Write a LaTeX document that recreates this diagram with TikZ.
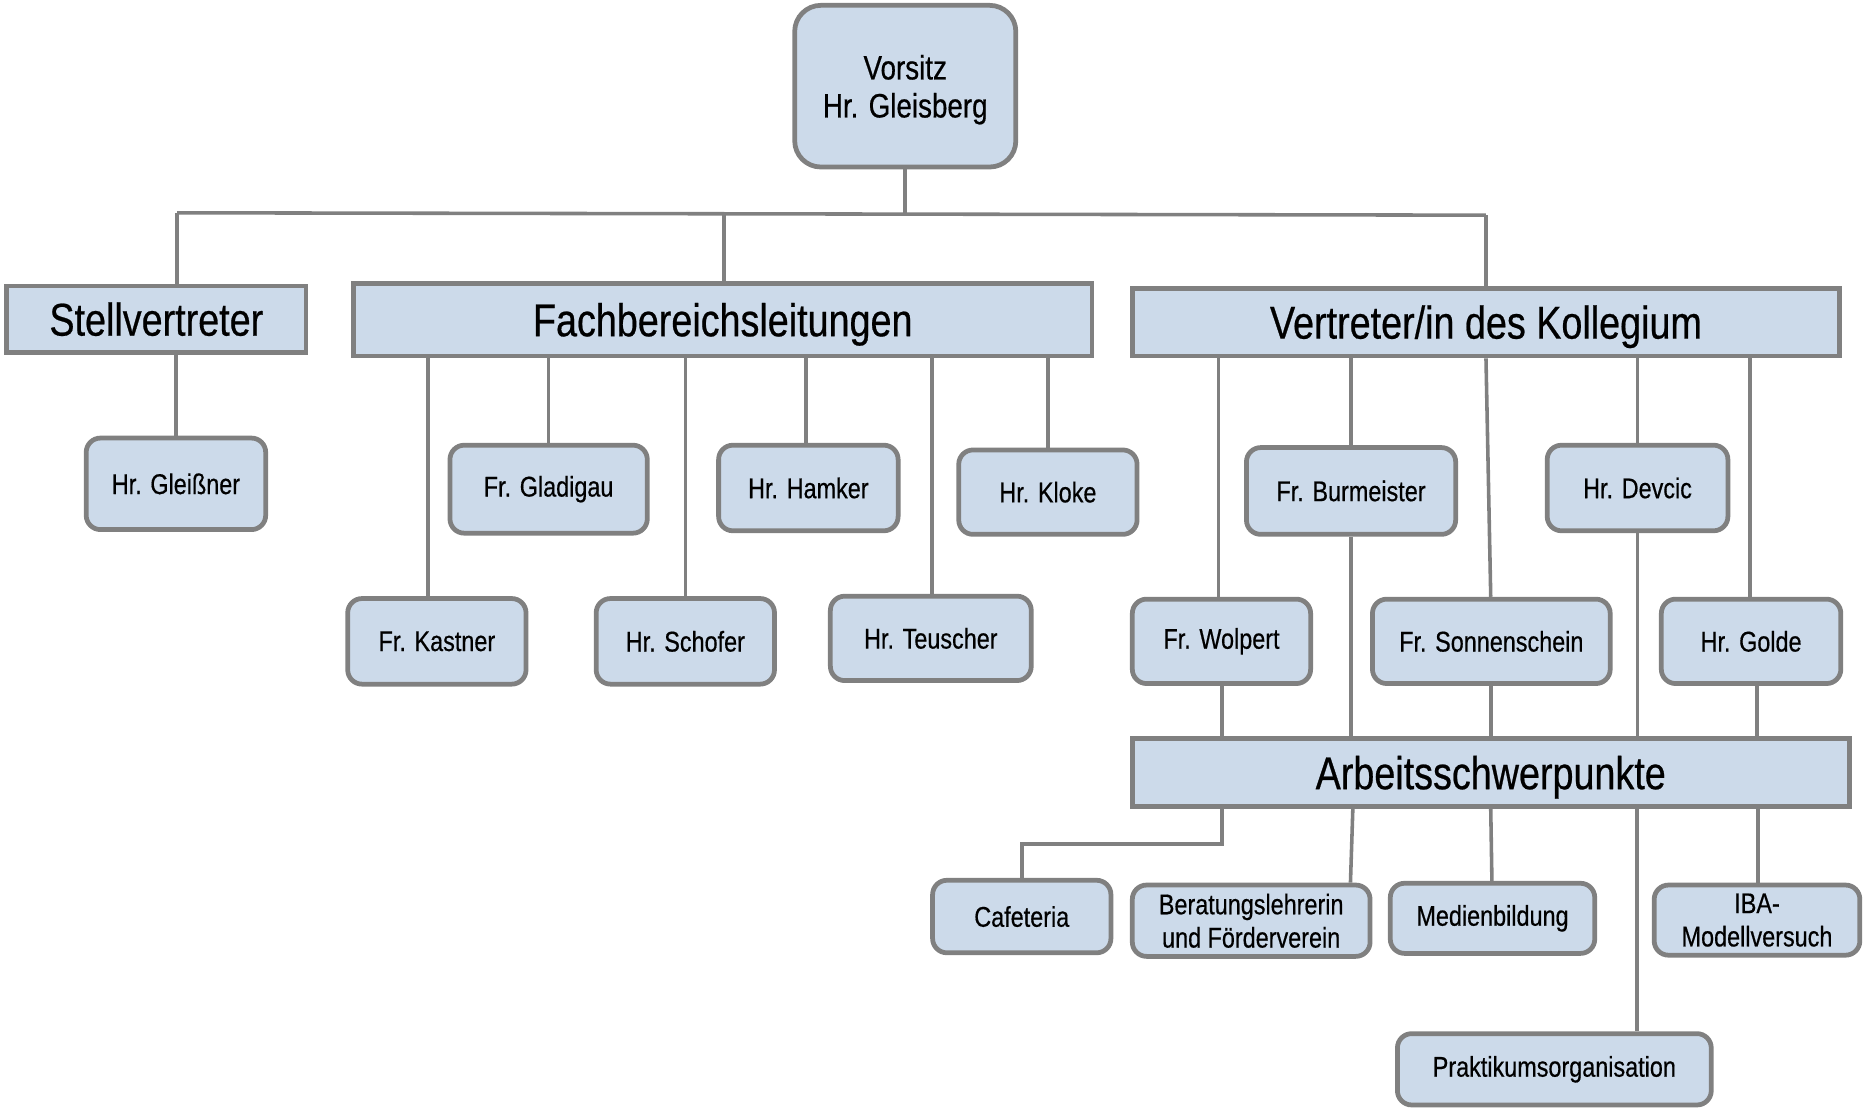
\documentclass[tikz,border=0pt]{standalone}
\usepackage{fontspec}
\setmainfont[FakeStretch=0.82,FakeBold=0.5]{Liberation Sans}
\definecolor{boxblue}{RGB}{204,218,234}
\definecolor{bordergray}{RGB}{128,128,128}
\definecolor{linegray}{RGB}{128,128,128}
\tikzset{
  lbox/.style={draw=bordergray, line width=4pt, fill=boxblue, rectangle, inner sep=0pt, text height=27.7pt, text depth=0pt, font=\fontsize{38.7}{44}\selectfont},
  sbox/.style={draw=bordergray, line width=4pt, fill=boxblue, rectangle, rounded corners=12pt, inner sep=0pt, align=center, font=\fontsize{24}{28}\selectfont},
  topbox/.style={sbox, rounded corners=22pt, text depth=0pt, font=\fontsize{28.5}{32}\selectfont},
  conn/.style={draw=linegray, line width=3pt}
}
\begin{document}
\begin{tikzpicture}[x=1pt,y=-1pt]
\useasboundingbox (0,0) rectangle (1568,933);
% nodes
\node[topbox, minimum width=186, minimum height=136] (vorsitz) at (761.5,72.5) {Vorsitz\\Hr. Gleisberg};
\node[lbox, minimum width=252, minimum height=56] (stell) at (131.5,268.5) {Stellvertreter};
\node[lbox, minimum width=621, minimum height=61] (fach) at (608,269) {Fachbereichsleitungen};
\node[lbox, minimum width=595, minimum height=57] (vert) at (1250,271) {Vertreter/in des Kollegium};
\node[sbox, minimum width=151, minimum height=77] (gleissner) at (148,407) {Hr. Gleißner};
\node[sbox, minimum width=150, minimum height=72] (kastner) at (367.5,539.5) {Fr. Kastner};
\node[sbox, minimum width=166, minimum height=74] (gladigau) at (461.5,411.5) {Fr. Gladigau};
\node[sbox, minimum width=150, minimum height=72] (schofer) at (576.5,539.5) {Hr. Schofer};
\node[sbox, minimum width=151, minimum height=72] (hamker) at (680,410.5) {Hr. Hamker};
\node[sbox, minimum width=169, minimum height=71] (teuscher) at (783,537) {Hr. Teuscher};
\node[sbox, minimum width=150, minimum height=71] (kloke) at (881.5,414) {Hr. Kloke};
\node[sbox, minimum width=150, minimum height=71] (wolpert) at (1027.5,539.5) {Fr. Wolpert};
\node[sbox, minimum width=176, minimum height=73] (burm) at (1136.5,413) {Fr. Burmeister};
\node[sbox, minimum width=200, minimum height=71] (sonnen) at (1254.5,539.5) {Fr. Sonnenschein};
\node[sbox, minimum width=152, minimum height=72] (devcic) at (1377.5,410.5) {Hr. Devcic};
\node[sbox, minimum width=151, minimum height=71] (golde) at (1473,539.5) {Hr. Golde};
\node[lbox, minimum width=603, minimum height=57] (arb) at (1254,650) {Arbeitsschwerpunkte};
\node[sbox, minimum width=150, minimum height=61] (caf) at (859.5,771) {Cafeteria};
\node[sbox, minimum width=200, minimum height=60] (berat) at (1052.5,774.5) {Beratungslehrerin\\und Förderverein};
\node[sbox, minimum width=172, minimum height=59] (medien) at (1255.5,772.5) {Medienbildung};
\node[sbox, minimum width=173, minimum height=59] (iba) at (1478,774) {IBA-\\Modellversuch};
\node[sbox, minimum width=264, minimum height=60] (prakt) at (1307.5,899.5) {Praktikumsorganisation};
% bus coordinates
\coordinate (busL) at (149,179);
\coordinate (busM) at (761.5,180);
\coordinate (busR) at (1250,181);
\coordinate (cafbend) at (1028,710);
% connectors
\draw[conn] (vorsitz.south) -- (busM);
\draw[conn] (busL) -- (busR);
\draw[conn] (busL) -- (busL |- stell.north);
\draw[conn] (fach.north -| 609,0) -- (609,180);
\draw[conn] (busR) -- (busR |- vert.north);
\draw[conn] (stell.south -| gleissner.north) -- (gleissner.north);
\draw[conn] (fach.south -| 360,0) -- (kastner.north -| 360,0);
\draw[conn] (fach.south -| gladigau.north) -- (gladigau.north);
\draw[conn] (fach.south -| schofer.north) -- (schofer.north);
\draw[conn] (fach.south -| 678,0) -- (hamker.north -| 678,0);
\draw[conn] (fach.south -| 784,0) -- (teuscher.north -| 784,0);
\draw[conn] (fach.south -| kloke.north) -- (kloke.north);
\draw[conn] (vert.south -| 1025,0) -- (wolpert.north -| 1025,0);
\draw[conn] (vert.south -| burm.north) -- (burm.north);
\draw[conn] (vert.south -| 1250,0) -- (sonnen.north -| 1254,0);
\draw[conn] (vert.south -| devcic.north) -- (devcic.north);
\draw[conn] (vert.south -| 1472,0) -- (golde.north -| 1472,0);
\draw[conn] (wolpert.south -| 1028,0) -- (arb.north -| 1028,0);
\draw[conn] (burm.south) -- (arb.north -| burm.south);
\draw[conn] (sonnen.south -| 1254,0) -- (arb.north -| 1254,0);
\draw[conn] (devcic.south) -- (arb.north -| devcic.south);
\draw[conn] (golde.south -| 1478,0) -- (arb.north -| 1478,0);
\draw[conn] (arb.south -| cafbend) -- (cafbend) -- (cafbend -| caf.north) -- (caf.north);
\draw[conn] (arb.south -| 1138,0) -- (berat.north -| 1136,0);
\draw[conn] (arb.south -| 1254,0) -- (medien.north -| 1255,0);
\draw[conn] (arb.south -| 1479,0) -- (iba.north -| 1479,0);
\draw[conn] (arb.south -| 1377,0) -- (prakt.north -| 1377,0);
\end{tikzpicture}
\end{document}
